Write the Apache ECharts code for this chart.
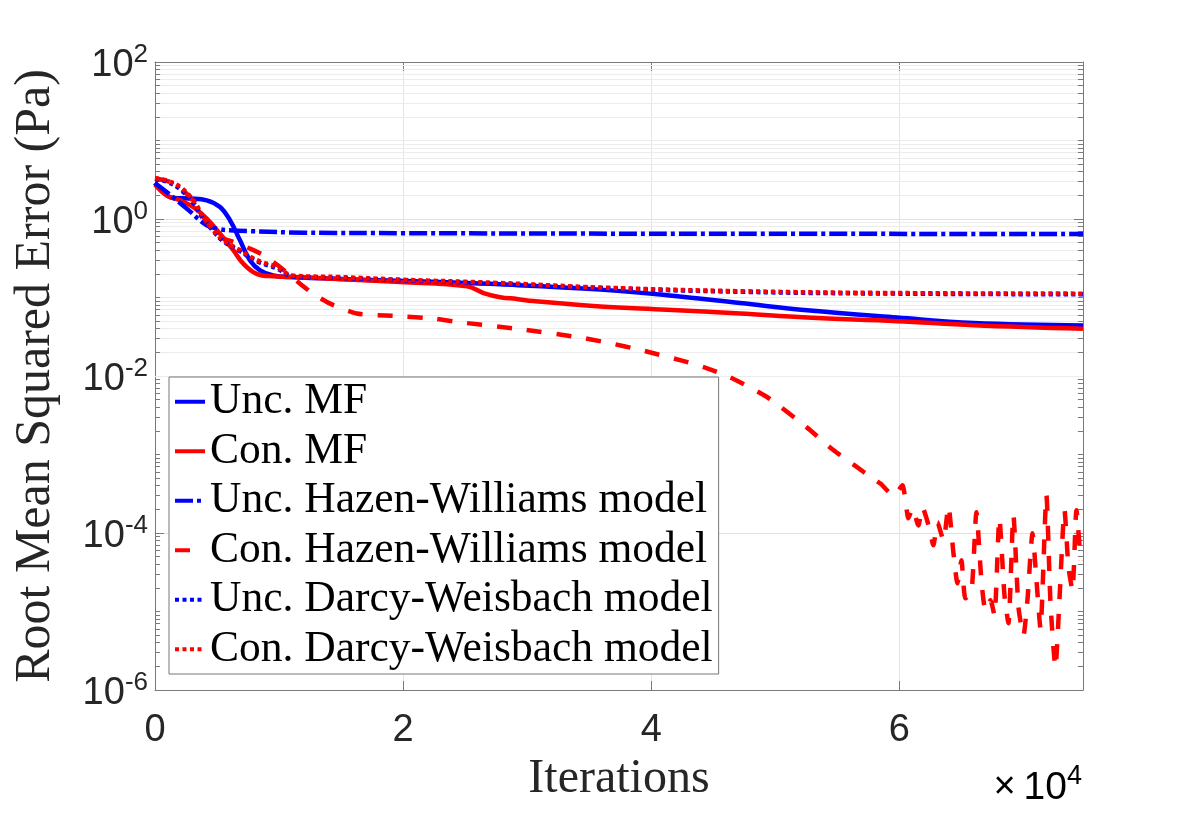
<!DOCTYPE html>
<html>
<head>
<meta charset="utf-8">
<script src="https://cdn.jsdelivr.net/npm/echarts@6/dist/echarts.min.js"></script>
<style>
html,body{margin:0;padding:0;background:#fff;}
#chart{width:1196px;height:814px;}
</style>
</head>
<body>
<div id="chart"></div>
<script>
// ---- data (iteration, RMSE in Pa) ----
const seriesNames = [
  'Unc. MF',
  'Con. MF',
  'Unc. Hazen-Williams model',
  'Con. Hazen-Williams model',
  'Unc. Darcy-Weisbach model',
  'Con. Darcy-Weisbach model'
];
const uncMF = [[0,2.88],[1450,1.85],[2820,1.82],[4170,1.73],[5240,1.42],[6050,0.96],[6850,0.535],[7660,0.297],[8470,0.222],[9520,0.191],[10890,0.182],[16000,0.170],[22980,0.157],[27820,0.147],[35890,0.126],[41260,0.107],[47180,0.085],[52560,0.0687],[59810,0.0555],[65990,0.0473],[74800,0.0440]];
const conMF = [[0,2.75],[940,2.0],[2020,1.73],[3090,1.42],[4170,1.01],[5240,0.65],[6310,0.40],[7120,0.27],[8200,0.20],[9520,0.186],[12230,0.18],[19760,0.157],[25140,0.139],[26480,0.114],[27820,0.101],[29170,0.0957],[30480,0.090],[35890,0.077],[41260,0.070],[47180,0.0624],[52560,0.0555],[59810,0.050],[65990,0.0443],[74800,0.040]];
const uncHW = [[0,2.88],[1450,1.9],[2820,1.25],[4170,0.83],[5240,0.74],[6000,0.72],[7700,0.70],[12000,0.67],[20000,0.66],[40000,0.65],[74800,0.645]];
const conHW = [[0,3.3],[1450,2.88],[2820,1.9],[4170,0.92],[5240,0.59],[6310,0.51],[7660,0.42],[8700,0.35],[10080,0.245],[11690,0.15],[12740,0.112],[14110,0.0836],[16260,0.0624],[19500,0.058],[22500,0.0537],[24330,0.0488],[29170,0.040],[34010,0.0314],[36500,0.0265],[39110,0.0215],[42610,0.0155],[44500,0.0125],[46300,0.0097],[49330,0.0054],[52560,0.0022],[54700,0.00113],[56590,0.00069],[57660,0.00052],[58470,0.000426],[59540,0.0003],
  [60240,4.05e-4],[60730,1.54e-4],[61050,2.06e-4],[61530,1.25e-4],[61850,2.13e-4],[62420,1.15e-4],[62740,6.97e-5],[63070,1.37e-4],[63550,8.05e-5],[63950,2.19e-4],[64350,5.7e-5],[64680,2.29e-5],[65000,4.49e-5],[65320,1.47e-5],[65810,1.76e-5],[66210,1.84e-4],[66610,2.5e-5],[66940,1.04e-5],[67340,1.39e-5],[67660,8.95e-6],[68060,1.54e-4],[68470,1.61e-5],[68790,7.1e-6],[69190,1.68e-4],[69600,1.13e-5],[70000,4.98e-6],[70320,1.39e-5],[70730,9.9e-5],[71050,2.5e-5],[71370,6.1e-6],[71850,3.03e-4],[72180,1.27e-5],[72580,1.95e-6],[72900,1.39e-5],[73310,1.95e-4],[73630,3.66e-5],[73950,1.86e-5],[74270,1.95e-4],[74600,4.5e-5]];
const uncDW = [[0,3.2],[940,3.0],[2020,2.4],[3090,1.6],[3900,1.0],[4710,0.70],[5520,0.52],[6850,0.39],[8200,0.29],[9800,0.235],[11160,0.185],[14920,0.178],[19760,0.166],[27820,0.150],[35890,0.132],[47500,0.118],[59810,0.112],[74800,0.110]];
const conDW = [[0,3.3],[940,3.1],[2020,2.56],[3090,1.73],[3900,1.06],[4710,0.72],[5520,0.535],[6850,0.40],[8200,0.30],[9800,0.245],[11160,0.19],[14920,0.182],[19760,0.169],[27820,0.153],[35890,0.134],[47500,0.12],[59810,0.114],[74800,0.112]];
const xMax = 74800;
const yMin = 1e-6, yMax = 1e2;

// minor (non-labelled) log grid values
const minorVals = [];
for (let e = -6; e <= 1; e++) {
  for (let k = 1; k <= 9; k++) {
    if (k === 1 && e % 2 === 0) continue;
    minorVals.push(k * Math.pow(10, e));
  }
}

const BLUE = '#0000ff', RED = '#ff0000';
const AX = '#7a7a7a', TXT = '#262626';
const sans = 'Liberation Sans, Arial, sans-serif';
const serif = 'Liberation Serif, Times New Roman, serif';
const LW = 4.5;

function lineSeries(name, data, color, type, smooth) {
  return {
    name, type: 'line', data, showSymbol: false, symbol: 'none', symbolSize: 0,
    smooth: smooth, xAxisIndex: 0, yAxisIndex: 0,
    lineStyle: { color: color, width: LW, type: type, cap: 'butt', join: 'round' },
    itemStyle: { color: color, opacity: 0 },
    emphasis: { disabled: true }, z: 3
  };
}

// minor tick segments on left and right axes (length as a fraction of x range)
const tickLen = xMax * 0.0055;
const minorTickSegs = [];
minorVals.forEach(v => {
  minorTickSegs.push([{ coord: [0, v] }, { coord: [tickLen, v] }]);
  minorTickSegs.push([{ coord: [xMax - tickLen, v] }, { coord: [xMax, v] }]);
});

const chart = echarts.init(document.getElementById('chart'), null, { renderer: 'canvas' });
const yLabelRich = {
  b: { fontFamily: sans, fontSize: 38, color: TXT, lineHeight: 48 },
  s: { fontFamily: sans, fontSize: 26, color: TXT, lineHeight: 20, verticalAlign: 'top' }
};
chart.setOption({
  animation: false,
  backgroundColor: '#fff',
  grid: { left: 155, right: 113, top: 62, bottom: 124, containLabel: false },
  xAxis: [{
    type: 'value', min: 0, max: xMax, interval: 20000, position: 'bottom',
    axisLine: { show: true, onZero: false, lineStyle: { color: AX, width: 1 } },
    axisTick: { show: true, inside: true, length: 9, lineStyle: { color: AX } },
    axisLabel: { fontFamily: sans, fontSize: 38, color: TXT, margin: 22, showMaxLabel: false,
      formatter: v => (v % 20000 === 0 ? String(v / 1e4) : '') },
    splitLine: { show: true, lineStyle: { color: '#e4e4e4', width: 1 } },
    name: 'Iterations', nameLocation: 'middle', nameGap: 58,
    nameTextStyle: { fontFamily: serif, fontSize: 48, color: TXT }
  }, {
    type: 'value', min: 0, max: xMax, interval: 20000, position: 'top',
    axisLine: { show: true, onZero: false, lineStyle: { color: AX, width: 1 } },
    axisTick: { show: true, inside: true, length: 9, lineStyle: { color: AX } },
    axisLabel: { show: false }, splitLine: { show: false }
  }],
  yAxis: [{
    type: 'log', logBase: 10, min: yMin, max: yMax, interval: 2, position: 'left',
    axisLine: { show: true, onZero: false, lineStyle: { color: AX, width: 1 } },
    axisTick: { show: true, inside: true, length: 9, lineStyle: { color: AX } },
    axisLabel: {
      margin: 7, padding: [8, 0, 0, 0],
      formatter: v => '{b|10}{s|' + Math.round(Math.log10(v)) + '}',
      rich: yLabelRich
    },
    splitLine: { show: true, lineStyle: { color: '#e0e0e0', width: 1 } },
    name: 'Root Mean Squared Error (Pa)', nameLocation: 'middle', nameGap: 94,
    nameTextStyle: { fontFamily: serif, fontSize: 50, color: TXT }
  }, {
    type: 'log', logBase: 10, min: yMin, max: yMax, interval: 2, position: 'right',
    axisLine: { show: true, onZero: false, lineStyle: { color: AX, width: 1 } },
    axisTick: { show: true, inside: true, length: 9, lineStyle: { color: AX } },
    axisLabel: { show: false }, splitLine: { show: false }
  }],
  legend: {
    orient: 'vertical', left: 169, top: 377,
    itemWidth: 30, itemHeight: 14, itemGap: 0,
    padding: [0, 6, 0, 4],
    backgroundColor: '#ffffff', borderColor: '#777', borderWidth: 1,
    selectedMode: false,
    itemStyle: { opacity: 0, borderWidth: 0 },
    lineStyle: { width: 4 },
    textStyle: { fontFamily: serif, fontSize: 43.5, color: '#000', lineHeight: 49.5 },
    data: seriesNames
  },
  graphic: [{
    type: 'text', right: 114, top: 763, z: 10,
    style: {
      text: '{x|×}{b|10}{s|4}',
      rich: {
        x: { fontFamily: sans, fontSize: 38, color: TXT, lineHeight: 50, padding: [0, 8, 0, 0] },
        b: { fontFamily: sans, fontSize: 39, color: TXT, lineHeight: 50 },
        s: { fontFamily: sans, fontSize: 27, color: TXT, lineHeight: 22, verticalAlign: 'top' }
      }
    }
  }],
  series: [
    {
      name: 'minor-grid', type: 'line', data: [], xAxisIndex: 0, yAxisIndex: 0, z: 1,
      markLine: {
        silent: true, symbol: 'none', animation: false, z: 1,
        label: { show: false },
        lineStyle: { color: '#ececec', width: 1, type: 'solid' },
        data: minorVals.map(v => ({ yAxis: v }))
      }
    },
    {
      name: 'minor-ticks', type: 'line', data: [], xAxisIndex: 0, yAxisIndex: 0, z: 1,
      markLine: {
        silent: true, symbol: 'none', animation: false, z: 1,
        label: { show: false },
        lineStyle: { color: AX, width: 1, type: 'solid' },
        data: minorTickSegs
      }
    },
    lineSeries(seriesNames[0], uncMF, BLUE, 'solid', 0.4),
    lineSeries(seriesNames[1], conMF, RED, 'solid', 0.4),
    lineSeries(seriesNames[2], uncHW, BLUE, [18, 4, 4, 4], 0.4),
    lineSeries(seriesNames[3], conHW, RED, [15, 15], 0.2),
    lineSeries(seriesNames[4], uncDW, BLUE, [4, 3.5], 0.4),
    lineSeries(seriesNames[5], conDW, RED, [4, 3.5], 0.4)
  ]
});
</script>
</body>
</html>
